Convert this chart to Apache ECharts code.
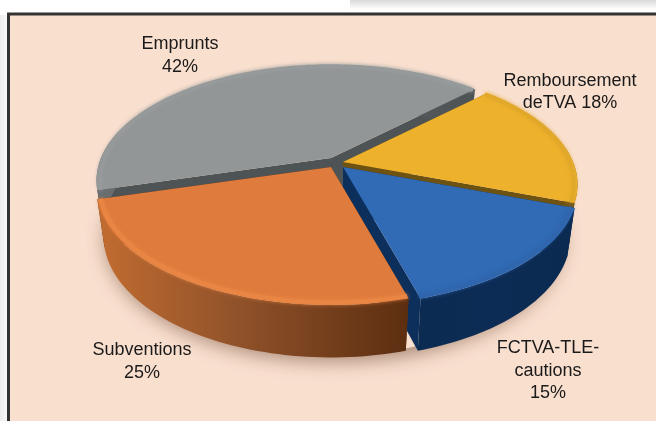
<!DOCTYPE html>
<html>
<head>
<meta charset="utf-8">
<style>html,body{margin:0;padding:0;background:#fff}#c{width:656px;height:421px}</style>
<script src="https://cdn.jsdelivr.net/npm/echarts@6/dist/echarts.min.js"></script>
</head>
<body>
<div id="c"></div>
<script>
// Data (drawing order: back to front)
const categories = ['Emprunts', 'Remboursement deTVA', 'FCTVA-TLE-cautions', 'Subventions'];
const shares = [42, 18, 15, 25];
const labelPrefixes = ['Emprunts\n', 'Remboursement\ndeTVA ', 'FCTVA-TLE-\ncautions\n', 'Subventions\n'];

// Styles
const faceColors = ['#939696', '#edb12c', '#316bb5', '#df7b3c'];
const edgeColors = ['#969a9a', '#e2a82a', '#2f66ae', '#ea8644'];
const radialWallColors = ['#4e5456', '#6e5212', '#0d2f5c', '#5e2f10'];
function stops(list) { return list.map(function (s) { return { offset: s[0], color: s[1] }; }); }
const rimStops = [
  [[0, '#6a6e70'], [1, '#4e5456']],
  [[0, '#a07c1e'], [1, '#6e5212']],
  [[0, '#0c2b52'], [0.5, '#0d2c55'], [1, '#0b2a50']],
  [[0, '#c26c30'], [0.45, '#90522a'], [1, '#5c2e10']]
];
// Per-slice explode position and label position
const apexX = [331, 343, 343, 331];
const apexY = [158, 162, 167, 167];
const labelX = [180, 570, 548, 142];
const labelY = [55.5, 92, 371, 361.5];

// Projection of the tilted disc
const START_DEG = 164.1, R = 230, TILT = 111, DEPTH = 48, PERSP = 0.195, ZPERSP = 0.03;
function project(ox, oy, u, v, z) {
  const w = 1 - PERSP * v + ZPERSP * z;
  return [ox + R * u / w, oy + (TILT * v + DEPTH * z) / w];
}
function arcPoints(ox, oy, a0, a1, z) {
  const pts = [], n = Math.max(2, Math.ceil(Math.abs(a1 - a0) / 1.5));
  for (let i = 0; i <= n; i++) {
    const t = (a0 + (a1 - a0) * i / n) * Math.PI / 180;
    pts.push(project(ox, oy, Math.cos(t), Math.sin(t), z));
  }
  return pts;
}
const total = shares.reduce((s, x) => s + x, 0);

function renderSlice(params, api) {
  const i = params.dataIndex;
  const value = api.value(0);
  let before = 0;
  for (let k = 0; k < i; k++) before += shares[k];
  const a0 = START_DEG + before / total * 360;
  const a1 = a0 + value / total * 360;
  const ox = apexX[i], oy = apexY[i];
  const children = [];

  if (i === 0) {
    // soft ground shadow
    children.push({
      type: 'polygon',
      shape: { points: arcPoints(334, 164, 0, 360, 1) },
      style: { fill: '#f9dfce', shadowColor: 'rgba(90,50,30,0.55)', shadowBlur: 20, shadowOffsetY: 6 }
    });
  }

  const topArc = arcPoints(ox, oy, a0, a1, 0);
  const botArc = arcPoints(ox, oy, a0, a1, 1);
  const apexTop = project(ox, oy, 0, 0, 0);
  const apexBot = project(ox, oy, 0, 0, 1);

  // radial walls
  [[topArc[0], botArc[0]], [topArc[topArc.length - 1], botArc[botArc.length - 1]]].forEach(function (e) {
    children.push({
      type: 'polygon',
      shape: { points: [apexTop, e[0], e[1], apexBot] },
      style: { fill: radialWallColors[i] }
    });
  });
  // rim wall
  children.push({
    type: 'polygon',
    shape: { points: topArc.concat(botArc.slice().reverse()) },
    style: { fill: new echarts.graphic.LinearGradient(0, 0, 1, 0, stops(rimStops[i])) }
  });
  // top face
  children.push({
    type: 'polygon',
    shape: { points: [apexTop].concat(topArc) },
    style: { fill: faceColors[i] }
  });
  // soft bevel along the rim
  const inner = [];
  const n = Math.max(2, Math.ceil((a1 - a0) / 1.5));
  for (let j = 0; j <= n; j++) {
    const t = (a0 + (a1 - a0) * j / n) * Math.PI / 180;
    inner.push(project(ox, oy, 0.985 * Math.cos(t), 0.985 * Math.sin(t), 0));
  }
  children.push({
    type: 'polyline',
    shape: { points: inner },
    style: { fill: null, stroke: edgeColors[i], lineWidth: 4, shadowColor: edgeColors[i], shadowBlur: 4 }
  });
  // label
  children.push({
    type: 'text',
    style: {
      text: labelPrefixes[i] + value + '%',
      x: labelX[i], y: labelY[i],
      align: 'center', verticalAlign: 'middle',
      fontFamily: 'Liberation Sans', fontSize: 18, lineHeight: 22.5, fill: '#1a1a1a'
    }
  });
  return { type: 'group', children: children };
}

const chart = echarts.init(document.getElementById('c'), null, { renderer: 'canvas' });
chart.setOption({
  animation: false,
  backgroundColor: '#ffffff',
  graphic: { elements: [
    { type: 'rect', z: 0, shape: { x: 350, y: 0, width: 306, height: 12 },
      style: { fill: new echarts.graphic.LinearGradient(0, 0, 0, 1, stops([[0, '#d9d9d9'], [0.8, '#ffffff']])) } },
    { type: 'rect', z: 0, shape: { x: 0, y: 15, width: 7, height: 406 },
      style: { fill: new echarts.graphic.LinearGradient(0, 0, 1, 0, stops([[0, '#ededed'], [1, '#f9f9f9']])) } },
    { type: 'rect', z: 0, shape: { x: 8.5, y: 14, width: 700, height: 460 },
      style: { fill: '#f9dfce', stroke: '#333333', lineWidth: 3 } }
  ] },
  series: [{
    type: 'custom',
    coordinateSystem: 'none',
    silent: true,
    z: 5,
    data: shares.map(function (v, i) { return { name: categories[i], value: [v] }; }),
    renderItem: renderSlice
  }]
});
</script>
</body>
</html>
